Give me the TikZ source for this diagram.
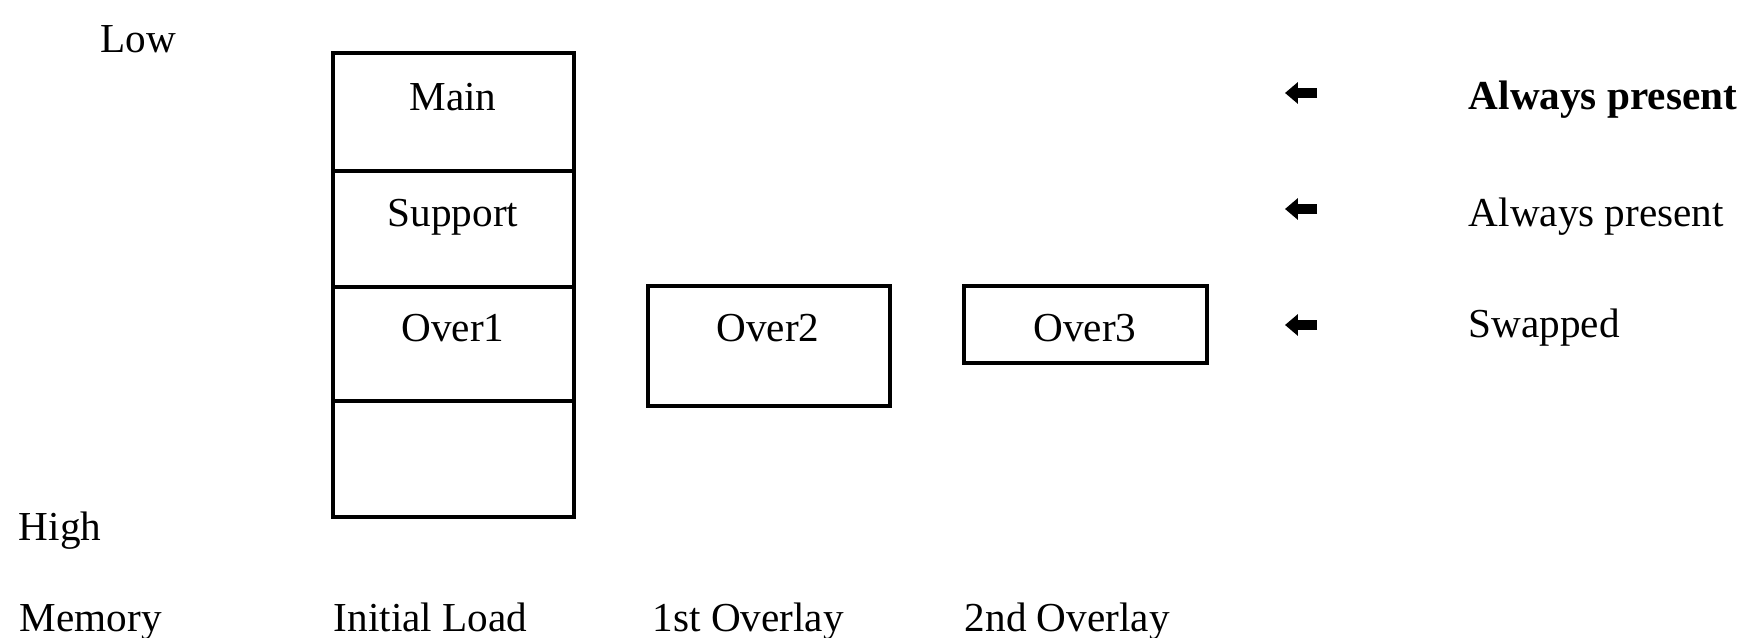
\documentclass[tikz,border=0pt]{standalone}
\usepackage{fontspec}
\setmainfont{Liberation Serif}
\usetikzlibrary{arrows.meta}

\tikzset{
    txt/.style={inner sep=0pt, font=\fontsize{10.3}{12}\selectfont},
    cell/.style={draw, line width=1pt},
    fatarrow/.style={line width=2.6pt, -{Triangle[length=3.2pt 0, width=5.2pt 0]}}
}

\begin{document}
\begin{tikzpicture}[x=0.25pt, y=-0.25pt]
            \useasboundingbox (0, 0) rectangle (1737, 638);

            \node[txt, anchor=base west] (low) at (100, 53) {Low};
            \node[txt, anchor=base west] (high) at (18, 541) {High};
            \node[txt, anchor=base west] (memory) at (19, 632) {Memory};

            \draw[cell] (333, 53) rectangle (574, 517);
            \draw[cell] (333, 171) -- (574, 171);
            \draw[cell] (333, 287) -- (574, 287);
            \draw[cell] (333, 401) -- (574, 401);
            \node[txt, anchor=base] (main) at (453, 111) {Main};
            \node[txt, anchor=base] (support) at (453, 227) {Support};
            \node[txt, anchor=base] (over1) at (453, 342) {Over1};

            \draw[cell] (648, 286) rectangle (890, 406);
            \node[txt, anchor=base] (over2) at (768, 342) {Over2};

            \draw[cell] (964, 286) rectangle (1207, 363);
            \node[txt, anchor=base] (over3) at (1085, 342) {Over3};

            \node[txt, anchor=base west] (initial) at (333, 632) {Initial Load};
            \node[txt, anchor=base west] (first) at (652, 632) {1st Overlay};
            \node[txt, anchor=base west] (second) at (964, 632) {2nd Overlay};

            \coordinate (tail1) at (1317, 93);
            \coordinate (tip1) at (1285, 93);
            \coordinate (tail2) at (1317, 209);
            \coordinate (tip2) at (1285, 209);
            \coordinate (tail3) at (1317, 325);
            \coordinate (tip3) at (1285, 325);
            \draw[fatarrow] (tail1) -- (tip1);
            \draw[fatarrow] (tail2) -- (tip2);
            \draw[fatarrow] (tail3) -- (tip3);

            \node[txt, anchor=base west, font=\fontsize{10.3}{12}\selectfont\bfseries] (always1) at (1468, 110) {Always present};
            \node[txt, anchor=base west] (always2) at (1468, 227) {Always present};
            \node[txt, anchor=base west] (swapped) at (1468, 338) {Swapped};
        \end{tikzpicture}
\end{document}
